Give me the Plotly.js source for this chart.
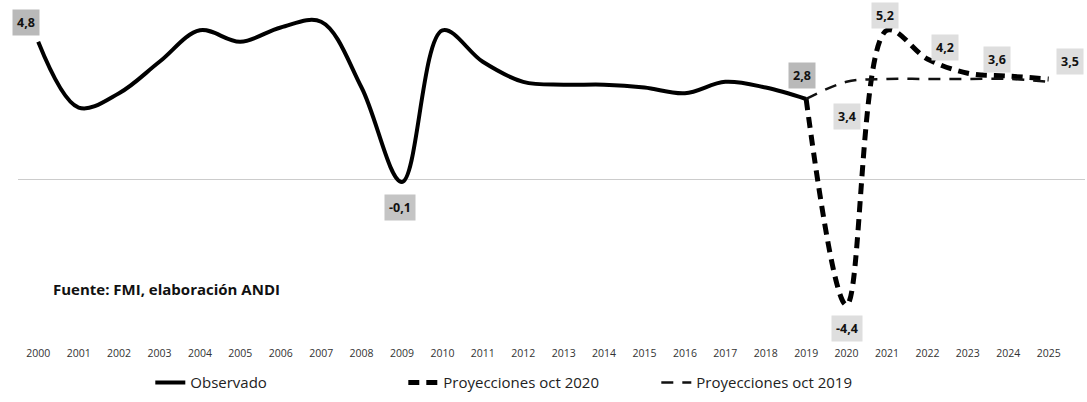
<!DOCTYPE html>
<html>
<head>
<meta charset="utf-8">
<script src="https://cdn.plot.ly/plotly-3.0.1.min.js"></script>
<style>
  html, body { margin: 0; padding: 0; background: #ffffff; }
  #chart { width: 1087px; height: 402px; }
</style>
</head>
<body>
<div id="chart"></div>
<script>
// ---- data ----
const obsYears = [2000, 2001, 2002, 2003, 2004, 2005, 2006, 2007, 2008, 2009,
                  2010, 2011, 2012, 2013, 2014, 2015, 2016, 2017, 2018, 2019];
const observado = [4.8, 2.5, 3.0, 4.1, 5.2, 4.8, 5.3, 5.5, 3.2, -0.1,
                   5.2, 4.1, 3.4, 3.3, 3.3, 3.2, 3.0, 3.4, 3.2, 2.8];
const projYears = [2019, 2020, 2021, 2022, 2023, 2024, 2025];
const proyOct2020 = [2.8, -4.4, 5.2, 4.2, 3.7, 3.6, 3.5];
const proyOct2019 = [2.8, 3.4, 3.5, 3.5, 3.5, 3.5, 3.4];
const tickYears = [];
for (let y = 2000; y <= 2025; y++) tickYears.push(y);
const seriesNames = ["Observado", "Proyecciones oct 2020", "Proyecciones oct 2019"];
const sourceText = "Fuente: FMI, elaboración ANDI";

// labelled points: [series, index]
const labelled = [
  ["obs", 0], ["obs", 9], ["obs", 19],
  ["p19", 1],
  ["p20", 1], ["p20", 2], ["p20", 3], ["p20", 5], ["p20", 6]
];
// label styling (offsets in px, box colour)
const labelStyle = {
  "obs0": {dx: -12, dy: 19, bg: "#b9b9b9"},
  "obs9": {dx: -2, dy: -26, bg: "#c4c4c4"},
  "obs19": {dx: -4, dy: 23, bg: "#b9b9b9"},
  "p191": {dx: 0, dy: -35, bg: "#dedede"},
  "p201": {dx: 0, dy: -24, bg: "#dedede"},
  "p202": {dx: -2, dy: 15, bg: "#dedede"},
  "p203": {dx: 18, dy: 11, bg: "#dedede"},
  "p205": {dx: -11, dy: 17, bg: "#dedede"},
  "p206": {dx: 21, dy: 17, bg: "#dedede"}
};

const src = {
  obs: {x: obsYears, y: observado},
  p20: {x: projYears, y: proyOct2020},
  p19: {x: projYears, y: proyOct2019}
};

function fmt(v) { return v.toFixed(1).replace(".", ","); }

const annotations = labelled.map(([s, i]) => {
  const st = labelStyle[s + i];
  return {
    x: src[s].x[i], y: src[s].y[i], xref: "x", yref: "y",
    text: "<b>" + fmt(src[s].y[i]) + "</b>",
    showarrow: false, xshift: st.dx, yshift: st.dy,
    bgcolor: st.bg, borderpad: 4,
    font: {family: "Open Sans, sans-serif", size: 12.5, color: "#111111"}
  };
});
annotations.push({
  xref: "paper", yref: "paper", x: 0.031, y: 0.167, xanchor: "left", yanchor: "middle",
  text: "<b>" + sourceText + "</b>", showarrow: false,
  font: {family: "Open Sans, sans-serif", size: 15, color: "#111111"}
});

const traces = [
  {
    x: obsYears, y: observado, name: seriesNames[0], type: "scatter", mode: "lines",
    line: {color: "#000000", width: 4, shape: "spline", smoothing: 1}
  },
  {
    x: projYears, y: proyOct2020, name: seriesNames[1], type: "scatter", mode: "lines",
    line: {color: "#000000", width: 5, dash: "11px,7px", shape: "spline", smoothing: 1}
  },
  {
    x: projYears, y: proyOct2019, name: seriesNames[2], type: "scatter", mode: "lines",
    line: {color: "#111111", width: 2.5, dash: "12px,9px", shape: "spline", smoothing: 1}
  }
];

const layout = {
  width: 1087, height: 402,
  margin: {l: 18, r: 2, t: 10, b: 57},
  paper_bgcolor: "#ffffff", plot_bgcolor: "#ffffff",
  showlegend: true,
  legend: {
    orientation: "h", x: 0.124, xanchor: "left", y: -0.113, yanchor: "middle",
    entrywidthmode: "pixels", entrywidth: 208,
    font: {family: "Open Sans, sans-serif", size: 15, color: "#222222"},
    bgcolor: "rgba(0,0,0,0)", traceorder: "normal"
  },
  xaxis: {
    range: [1999.5, 2025.9], tickmode: "array", tickvals: tickYears,
    ticktext: tickYears.map(String), showgrid: false, zeroline: false,
    showline: false, ticks: "",
    tickfont: {family: "Open Sans, sans-serif", size: 10.5, color: "#333333"}
  },
  yaxis: {
    range: [-5.8, 5.91], showgrid: false, showticklabels: false, ticks: "",
    zeroline: true, zerolinecolor: "#cccccc", zerolinewidth: 1, showline: false
  },
  annotations: annotations
};

Plotly.newPlot("chart", traces, layout, {displayModeBar: false, staticPlot: true});
</script>
</body>
</html>
